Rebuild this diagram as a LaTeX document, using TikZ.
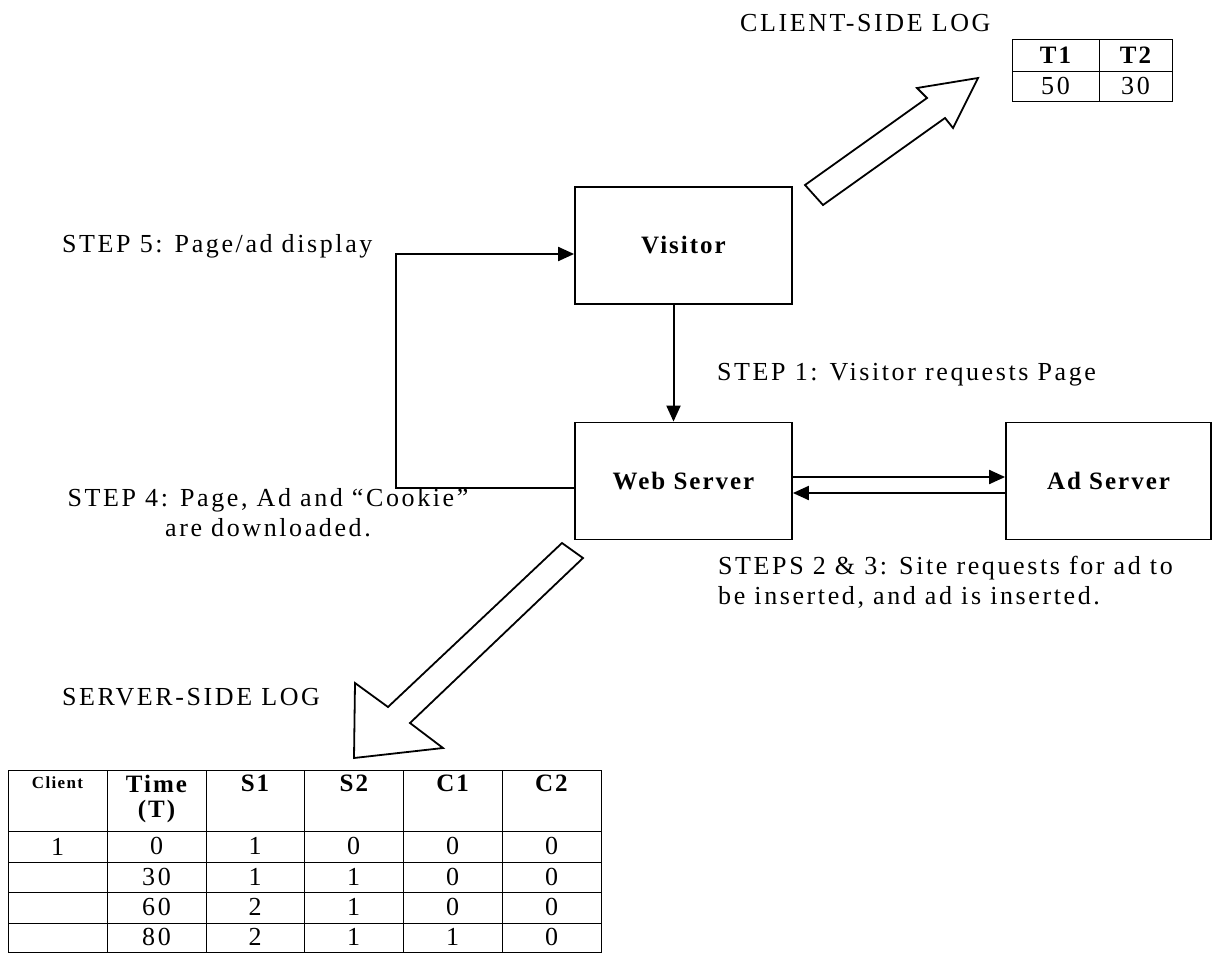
\documentclass[tikz,border=0pt]{standalone}
\usepackage{fontspec}
\setmainfont{Liberation Serif}
\newfontfamily\spaced[LetterSpace=10]{Liberation Serif}
\newfontfamily\boxfont[LetterSpace=8]{Liberation Serif}
\usetikzlibrary{arrows.meta}
\newcommand{\steptext}{\spaced\fontsize{26}{30}\selectfont}
\newcommand{\boxtext}{\boxfont\bfseries\fontsize{25}{27}\selectfont}

\begin{document}
\begin{tikzpicture}[x=1pt,y=-1pt,
  unit/.style={draw,line width=1.8pt,minimum width=217pt,minimum height=117pt,font=\boxtext},
  conn/.style={line width=2pt,-{Triangle[length=16pt,width=14pt]}},
  bigarrow/.style={line width=1.8pt,line join=miter,fill=white},
  grid/.style={line width=1pt},
  lbl/.style={font=\steptext,inner sep=0pt},
  cell/.style={font=\steptext,inner sep=0pt},
  head/.style={font=\boxtext,inner sep=0pt}]
\useasboundingbox (0,0) rectangle (1212,953);

% the three boxes
\node[unit] (visitor) at (683.5,245.5) {Visitor};
\node[unit] (web) at (683.5,481) {Web Server};
\node[unit,minimum width=205pt] (ad) at (1108.5,481) {Ad Server};

% steps 1 to 5
\draw[conn] ([xshift=-10pt]visitor.south) -- ([xshift=-10pt]web.north);
\draw[conn] ([yshift=4pt]web.east) -- ([yshift=4pt]ad.west);
\draw[conn] ([yshift=-12pt]ad.west) -- ([yshift=-12pt]web.west -| web.east);
\draw[conn] ([yshift=-7pt]web.west) -- ++(-178,0) |- ([yshift=-8.5pt]visitor.west);

\node[lbl,anchor=west] (step5) at (62,246) {STEP 5: Page/ad display};
\node[lbl,anchor=west] (step1) at (717,375) {STEP 1: Visitor requests Page};
\node[lbl,align=center] (step4) at (268,513) {STEP 4: Page, Ad and “Cookie”\\are downloaded.};
\node[lbl,align=left,anchor=west] (step23) at (718,582) {STEPS 2 \& 3: Site requests for ad to\\be inserted, and ad is inserted.};

% hollow arrows to the logs
\draw[bigarrow] (805,185) -- (927,98) -- (917,88) -- (978,78) -- (953,128) -- (945,118) -- (823,205) -- cycle;
\draw[bigarrow] (562,543) -- (388,707) -- (355,683) -- (354,758) -- (443,748) -- (410,723) -- (583,558) -- cycle;

% client log
\node[lbl,anchor=west] (clientlog) at (740,23) {CLIENT-SIDE LOG};
\draw[grid] (1012,39) rectangle (1172,101);
\draw[grid] (1012,71) -- (1172,71);
\draw[grid] (1099,39) -- (1099,101);
\node[head] (t1) at (1055.5,55) {T1};
\node[head] (t2) at (1135.5,55) {T2};
\node[cell] (v1) at (1055.5,86) {50};
\node[cell] (v2) at (1135.5,86) {30};

% server log
\node[lbl,anchor=west] (serverlog) at (62,697) {SERVER-SIDE LOG};
\draw[grid] (8,770) rectangle (601,952);
\foreach \yy in {831,862,892,923}
  \draw[grid] (8,\yy) -- (601,\yy);
\foreach \xx in {107,206,304,403,502}
  \draw[grid] (\xx,770) -- (\xx,952);

\node[head,font=\boxfont\bfseries\fontsize{17}{18}\selectfont] (hclient) at (57.5,783) {Client};
\node[head] (htime) at (156.5,784) {Time};
\node[head] (hunit) at (156.5,811) {(T)};
\foreach \name [count=\i] in {S1,S2,C1,C2}
  \node[head] (h\name) at (255+98.8*\i-98.8,783) {\name};

\node[cell] (client1) at (57.5,846.5) {1};
\foreach \tt/\sa/\sb/\ca/\cb [count=\r] in {0/1/0/0/0,30/1/1/0/0,60/2/1/0/0,80/2/1/1/0}
{
  \pgfmathsetmacro{\yy}{816+30.3*\r}
  \node[cell] (time\r) at (156.5,\yy) {\tt};
  \node[cell] (sa\r) at (255,\yy) {\sa};
  \node[cell] (sb\r) at (353.5,\yy) {\sb};
  \node[cell] (ca\r) at (452.5,\yy) {\ca};
  \node[cell] (cb\r) at (551.5,\yy) {\cb};
}
\end{tikzpicture}
\end{document}
